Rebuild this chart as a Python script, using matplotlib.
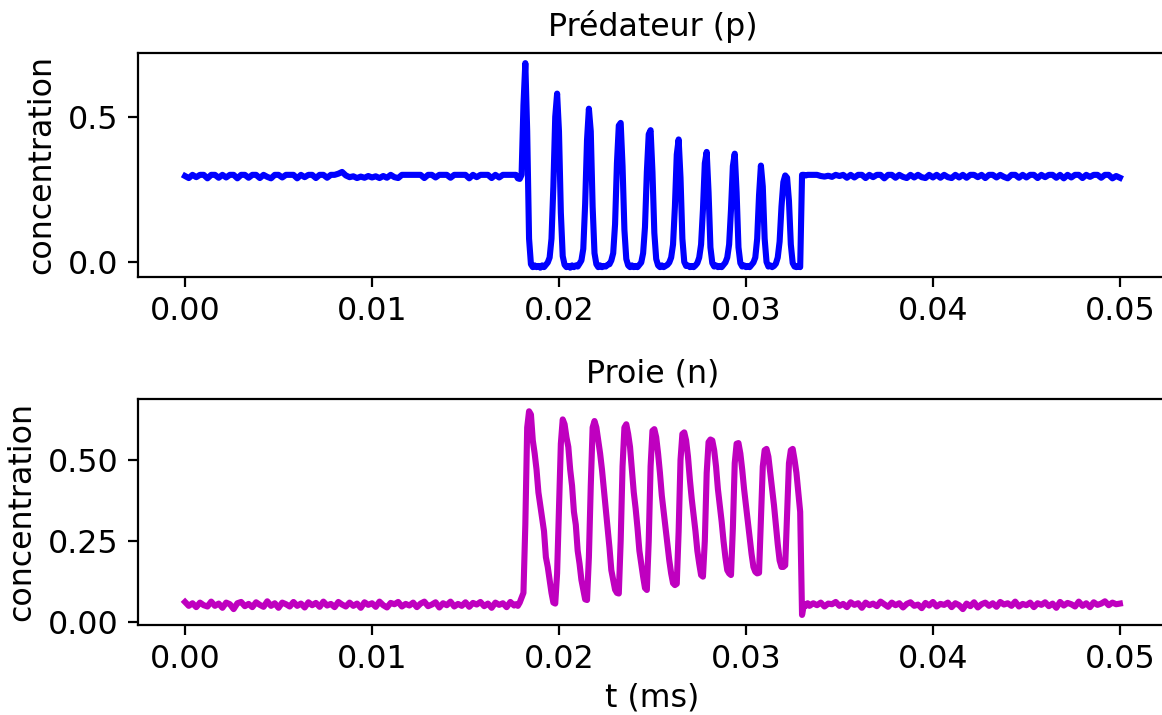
import numpy as np
import matplotlib
matplotlib.use("Agg")
import matplotlib.pyplot as plt

# ---------------- data ----------------
# Predator p : flat noisy part before the oscillations (t = 0 .. 0.0176, step 0.0002)
p_pre = [
    0.296, 0.289, 0.300, 0.292, 0.300, 0.300, 0.288, 0.300, 0.300, 0.290,
    0.300, 0.291, 0.300, 0.300, 0.288, 0.300, 0.300, 0.290, 0.300, 0.300,
    0.289, 0.300, 0.293, 0.288, 0.300, 0.300, 0.291, 0.300, 0.300, 0.300,
    0.288, 0.300, 0.292, 0.300, 0.300, 0.289, 0.300, 0.300, 0.290, 0.300,
    0.300, 0.304, 0.310, 0.298, 0.292, 0.295, 0.289, 0.294, 0.290, 0.296,
    0.291, 0.295, 0.289, 0.296, 0.290, 0.300, 0.292, 0.289, 0.300, 0.300,
    0.300, 0.300, 0.300, 0.300, 0.289, 0.300, 0.300, 0.291, 0.300, 0.300,
    0.300, 0.290, 0.300, 0.300, 0.300, 0.300, 0.288, 0.300, 0.292, 0.300,
    0.300, 0.300, 0.289, 0.300, 0.291, 0.300, 0.300, 0.300, 0.300,
]
# Predator p : oscillating part (t = 0.0177 .. 0.0333, step 0.0001)
p_osc = [
    0.300, 0.288, 0.286,
    0.300, 0.540, 0.685, 0.450, 0.080, -0.008, -0.018, -0.012, -0.018, -0.014,
    -0.020, -0.012, -0.018, -0.010, -0.002, 0.015, 0.080, 0.260, 0.500, 0.580,
    0.450, 0.170, 0.020, -0.010, -0.018, -0.014, -0.020, -0.012, -0.018, -0.012,
    -0.016, -0.006, 0.005, 0.045, 0.200, 0.420, 0.528, 0.450, 0.190, 0.030,
    -0.008, -0.018, -0.012, -0.018, -0.014, -0.016, -0.010, -0.008, 0.005, 0.030,
    0.130, 0.340, 0.470, 0.479, 0.330, 0.110, 0.010, -0.012, -0.018, -0.012,
    -0.018, -0.014, -0.018, -0.010, -0.002, 0.030, 0.120, 0.310, 0.440, 0.454,
    0.310, 0.100, 0.010, -0.012, -0.018, -0.012, -0.018, -0.014, -0.010, -0.002,
    0.015, 0.060, 0.190, 0.370, 0.422, 0.290, 0.080, 0.000, -0.014, -0.012,
    -0.018, -0.014, -0.018, -0.012, -0.004, 0.015, 0.060, 0.180, 0.340, 0.379,
    0.240, 0.050, -0.004, -0.016, -0.012, -0.018, -0.014, -0.018, -0.010, -0.002,
    0.015, 0.060, 0.180, 0.330, 0.373, 0.240, 0.050, -0.004, -0.016, -0.012,
    -0.018, -0.014, -0.018, -0.010, -0.002, 0.015, 0.080, 0.230, 0.332, 0.260,
    0.080, 0.000, -0.016, -0.012, -0.018, -0.014, -0.006, 0.015, 0.070, 0.190,
    0.275, 0.298, 0.290, 0.210, 0.060, -0.004, -0.016, -0.018, -0.014, -0.018,
    0.300, 0.300, 0.298, 0.300,
]
# Predator p : flat noisy part after the oscillations (t = 0.0334 .. 0.05, step 0.0002)
p_post = [
    0.300, 0.300, 0.300, 0.296, 0.294, 0.297, 0.293, 0.300, 0.296, 0.300,
    0.290, 0.300, 0.291, 0.300, 0.300, 0.289, 0.300, 0.292, 0.300, 0.300,
    0.288, 0.300, 0.300, 0.290, 0.300, 0.293, 0.289, 0.300, 0.291, 0.300,
    0.292, 0.289, 0.300, 0.291, 0.300, 0.290, 0.300, 0.292, 0.289, 0.300,
    0.291, 0.300, 0.290, 0.300, 0.300, 0.292, 0.300, 0.289, 0.300, 0.300,
    0.291, 0.300, 0.293, 0.288, 0.300, 0.300, 0.290, 0.300, 0.291, 0.300,
    0.300, 0.289, 0.300, 0.292, 0.300, 0.300, 0.290, 0.300, 0.288, 0.300,
    0.291, 0.300, 0.300, 0.289, 0.300, 0.293, 0.300, 0.300, 0.290, 0.300,
    0.300, 0.288, 0.296, 0.290,
]

# Prey n
n_pre = [
    0.062, 0.050, 0.058, 0.046, 0.060, 0.052, 0.048, 0.063, 0.050, 0.057,
    0.044, 0.060, 0.055, 0.040, 0.058, 0.062, 0.049, 0.056, 0.046, 0.061,
    0.053, 0.047, 0.064, 0.050, 0.058, 0.044, 0.060, 0.055, 0.048, 0.062,
    0.050, 0.057, 0.045, 0.061, 0.052, 0.059, 0.047, 0.063, 0.051, 0.056,
    0.046, 0.062, 0.054, 0.048, 0.060, 0.050, 0.057, 0.044, 0.061, 0.053,
    0.058, 0.047, 0.063, 0.052, 0.045, 0.059, 0.055, 0.062, 0.048, 0.056,
    0.051, 0.060, 0.046, 0.057, 0.063, 0.049, 0.054, 0.061, 0.045, 0.058,
    0.052, 0.063, 0.048, 0.056, 0.050, 0.061, 0.047, 0.059, 0.054, 0.062,
    0.049, 0.057, 0.044, 0.060, 0.053, 0.058, 0.046, 0.062, 0.051,
]
n_osc = [
    0.055, 0.050, 0.060,
    0.075, 0.090, 0.300, 0.600, 0.650, 0.640, 0.560, 0.520, 0.470, 0.400,
    0.360, 0.320, 0.280, 0.200, 0.170, 0.130, 0.090, 0.060, 0.057, 0.150,
    0.350, 0.550, 0.625, 0.610, 0.570, 0.540, 0.470, 0.420, 0.340, 0.300,
    0.220, 0.180, 0.130, 0.100, 0.070, 0.068, 0.200, 0.420, 0.600, 0.620,
    0.600, 0.560, 0.520, 0.470, 0.410, 0.350, 0.290, 0.230, 0.160, 0.130,
    0.100, 0.090, 0.088, 0.250, 0.480, 0.600, 0.610, 0.580, 0.540, 0.470,
    0.400, 0.350, 0.290, 0.220, 0.180, 0.140, 0.105, 0.099, 0.250, 0.480,
    0.590, 0.595, 0.570, 0.520, 0.460, 0.390, 0.340, 0.290, 0.240, 0.190,
    0.150, 0.120, 0.114, 0.118, 0.280, 0.500, 0.580, 0.585, 0.560, 0.510,
    0.440, 0.380, 0.330, 0.280, 0.220, 0.180, 0.145, 0.140, 0.250, 0.460,
    0.555, 0.563, 0.560, 0.530, 0.480, 0.410, 0.360, 0.310, 0.250, 0.200,
    0.160, 0.150, 0.145, 0.290, 0.490, 0.550, 0.552, 0.520, 0.470, 0.410,
    0.360, 0.310, 0.260, 0.210, 0.170, 0.155, 0.150, 0.152, 0.320, 0.480,
    0.530, 0.534, 0.510, 0.460, 0.410, 0.360, 0.300, 0.240, 0.190, 0.170,
    0.170, 0.175, 0.330, 0.490, 0.530, 0.534, 0.500, 0.460, 0.400, 0.340,
    0.022, 0.055, 0.050, 0.058,
]
n_post = [
    0.050, 0.058, 0.052, 0.060, 0.048, 0.057, 0.055, 0.062, 0.050, 0.056,
    0.046, 0.061, 0.053, 0.058, 0.044, 0.060, 0.052, 0.057, 0.049, 0.063,
    0.055, 0.047, 0.060, 0.052, 0.058, 0.045, 0.056, 0.061, 0.050, 0.054,
    0.043, 0.059, 0.051, 0.062, 0.048, 0.056, 0.053, 0.060, 0.046, 0.058,
    0.052, 0.040, 0.057, 0.049, 0.061, 0.045, 0.055, 0.060, 0.050, 0.058,
    0.047, 0.062, 0.054, 0.058, 0.050, 0.063, 0.048, 0.056, 0.052, 0.060,
    0.046, 0.058, 0.053, 0.061, 0.049, 0.057, 0.044, 0.062, 0.051, 0.059,
    0.055, 0.048, 0.063, 0.050, 0.058, 0.046, 0.061, 0.053, 0.057, 0.064,
    0.052, 0.060, 0.055, 0.057,
]

titles = ["Prédateur (p)", "Proie (n)"]
ylabel = "concentration"
xlabel = "t (ms)"
xticks = [0.00, 0.01, 0.02, 0.03, 0.04, 0.05]

# time grids
t_pre = np.linspace(0.0, 0.0176, len(p_pre))
t_osc = np.linspace(0.0177, 0.0333, len(p_osc))
t_post = np.linspace(0.0334, 0.05, len(p_post))
t = np.concatenate([t_pre, t_osc, t_post])
p = np.concatenate([p_pre, p_osc, p_post])
n = np.concatenate([n_pre, n_osc, n_post])

# ---------------- plot ----------------
FS = 11.4
fig = plt.figure(figsize=(5.81, 3.575), dpi=200)
ax1 = fig.add_axes([0.119, 0.6126, 0.885, 0.3133])
ax2 = fig.add_axes([0.119, 0.1259, 0.885, 0.3161])

ax1.plot(t, p, color="b", lw=2.2)
ax2.plot(t, n, color="m", lw=2.2)

ax1.set_ylim(-0.052, 0.72)
ax1.set_yticks([0.0, 0.5])
ax1.set_yticklabels(["0.0", "0.5"])
ax2.set_ylim(-0.009, 0.688)
ax2.set_yticks([0.0, 0.25, 0.5])
ax2.set_yticklabels(["0.00", "0.25", "0.50"])

for ax, ttl in zip((ax1, ax2), titles):
    ax.set_xticks(xticks)
    ax.set_xticklabels([f"{v:.2f}" for v in xticks])
    ax.tick_params(labelsize=FS)
    ax.set_title(ttl, fontsize=FS)
    ax.set_ylabel(ylabel, fontsize=FS)
ax2.set_xlabel(xlabel, fontsize=FS, labelpad=2.5)

fig.savefig("out.png", dpi=200)
